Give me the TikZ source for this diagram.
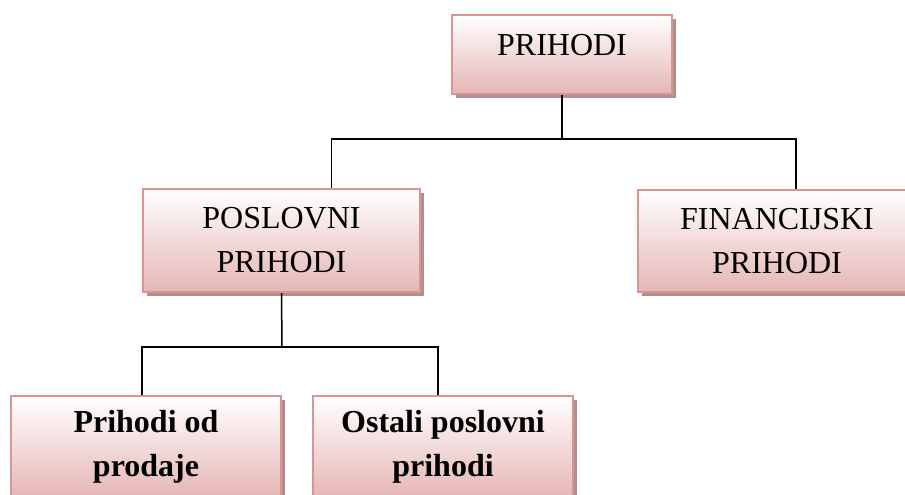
\documentclass[tikz,border=0pt]{standalone}
\usepackage{fontspec}
\setmainfont{Liberation Serif}
\usetikzlibrary{shadows}
\definecolor{rubrub}{RGB}{217,149,148}
\definecolor{rubdno}{RGB}{229,182,181}
\definecolor{sjena}{RGB}{179,142,142}
\tikzset{kutija/.style = {shape=rectangle, draw=rubrub, line width=2pt,
    top color=white, bottom color=rubdno, align=center, inner sep=0pt,
    font=\fontsize{32}{44}\selectfont,
    drop shadow={shadow xshift=4pt, shadow yshift=-4pt, fill=sjena, opacity=1}}}
\tikzset{veza/.style = {draw=black, line width=1.5pt}}

\begin{document}
\begin{tikzpicture}[x=1pt,y=-1pt]
  \useasboundingbox (0,0) rectangle (905,495);

  \node[kutija, minimum width=220pt, minimum height=79pt, text depth=20pt] (prihodi) at (562,54.5) {PRIHODI};
  \node[kutija, minimum width=277pt, minimum height=103pt] (poslovni) at (281.5,240.5) {POSLOVNI\\PRIHODI};
  \node[kutija, minimum width=278pt, minimum height=102pt] (financijski) at (777,241) {FINANCIJSKI\\PRIHODI};
  \node[kutija, minimum width=270pt, minimum height=101pt, font=\fontsize{32}{44}\selectfont\bfseries] (prodaja) at (146,446.5) {Prihodi od\\prodaje};
  \node[kutija, minimum width=260pt, minimum height=101pt, font=\fontsize{32}{44}\selectfont\bfseries] (ostali) at (443,446.5) {Ostali poslovni\\prihodi};

  % veze
  \coordinate (g1) at (562,139);
  \coordinate (g2) at (282,347);
  \draw[veza] (prihodi.south) -- (g1) -| ([xshift=19pt]financijski.north);
  \draw[veza] (g1) -| ([xshift=50pt]poslovni.north);
  \draw[veza] (poslovni.south) -- (g2);
  \draw[veza] ([xshift=-4pt]prodaja.north) |- (g2) -| ([xshift=-5pt]ostali.north);
\end{tikzpicture}
\end{document}
